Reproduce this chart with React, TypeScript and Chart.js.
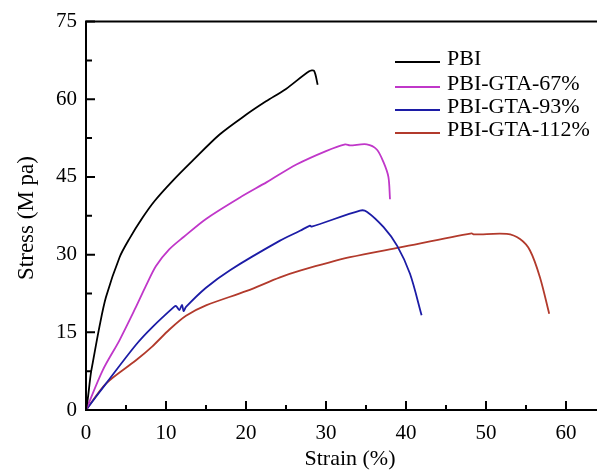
import React, { useEffect, useRef } from "react";
import { Chart, registerables } from "chart.js";

Chart.register(...registerables);

const seriesNames = ["PBI", "PBI-GTA-67%", "PBI-GTA-93%", "PBI-GTA-112%"];
const seriesColors = ["#000000", "#c037c9", "#1c1ca6", "#b23a2c"];

const pbiStrain = [0, 0.2, 0.6, 0.83, 1.67, 2.5, 4.2, 5.4, 7.1, 8.6, 10.8, 13.3, 16.7, 20, 22.5, 25, 27.9, 28.5, 28.96];
const pbiStress = [0, 1.9, 7, 9, 16, 21.8, 29.5, 33, 37.2, 40.4, 44.2, 48.1, 53.2, 57, 59.6, 62, 65.4, 65.5, 62.8];

const gta67Strain = [0, 2.1, 4.2, 6.25, 7.5, 8.75, 10.4, 12.2, 15, 19.2, 22.6, 26.3, 30, 32.4, 33, 35.1, 36.35, 37.2, 37.8, 38];
const gta67Stress = [0, 7.7, 13.5, 19.9, 24.0, 27.8, 31.0, 33.4, 36.9, 41, 44, 47.4, 50, 51.3, 51.1, 51.3, 50.3, 47.8, 45, 40.7];

const gta93Strain = [0, 2.5, 6.25, 8.3, 11, 11.25, 11.67, 12, 12.2, 12.5, 15, 18, 24.25, 26.75, 28.0, 28.2, 34.25, 35.1, 37.2, 38.9, 40.5, 41.95];
const gta93Stress = [0, 5.1, 12.6, 16.0, 19.9, 20.1, 19.3, 20.3, 19.1, 19.9, 23.6, 27, 32.7, 34.6, 35.6, 35.4, 38.5, 38.3, 35.3, 31.7, 26.3, 18.3];

const gta112Strain = [0, 2.5, 6.25, 8.3, 10.4, 12.5, 15, 20.1, 24.25, 26.75, 33, 39.25, 48.2, 48.5, 52.6, 54.25, 55.5, 56.75, 57.9];
const gta112Stress = [0, 5.1, 9.6, 12.3, 15.5, 18.2, 20.2, 23, 25.6, 26.9, 29.5, 31.4, 34.1, 33.9, 34.0, 33, 30.8, 25.6, 18.6];

const xTicks = [0, 10, 20, 30, 40, 50, 60];
const yTicks = [0, 15, 30, 45, 60, 75];
const xMinorTicks = [5, 15, 25, 35, 45, 55];
const yMinorTicks = [7.5, 22.5, 37.5, 52.5, 67.5];

const xTitle = "Strain (%)";
const yTitle = "Stress (M pa)";

const strains = [pbiStrain, gta67Strain, gta93Strain, gta112Strain];
const stresses = [pbiStress, gta67Stress, gta93Stress, gta112Stress];

const FONT = "'Liberation Serif', 'Times New Roman', serif";

const framePlugin = {
  id: "frame",
  afterDraw(chart: any) {
    const { ctx, chartArea, scales } = chart;
    const xs = scales.x;
    const ys = scales.y;
    ctx.save();
    ctx.strokeStyle = "#000";
    ctx.lineWidth = 2;
    ctx.beginPath();
    ctx.moveTo(chartArea.right + 2, chartArea.top);
    ctx.lineTo(chartArea.left, chartArea.top);
    ctx.lineTo(chartArea.left, chartArea.bottom);
    ctx.lineTo(chartArea.right + 2, chartArea.bottom);
    ctx.stroke();
    ctx.beginPath();
    for (const v of xTicks) {
      const px = xs.getPixelForValue(v);
      ctx.moveTo(px, chartArea.bottom);
      ctx.lineTo(px, chartArea.bottom - 9);
    }
    for (const v of xMinorTicks) {
      const px = xs.getPixelForValue(v);
      ctx.moveTo(px, chartArea.bottom);
      ctx.lineTo(px, chartArea.bottom - 5);
    }
    for (const v of yTicks) {
      const py = ys.getPixelForValue(v);
      ctx.moveTo(chartArea.left, py);
      ctx.lineTo(chartArea.left + 9, py);
    }
    for (const v of yMinorTicks) {
      const py = ys.getPixelForValue(v);
      ctx.moveTo(chartArea.left, py);
      ctx.lineTo(chartArea.left + 6, py);
    }
    ctx.stroke();

    // axis titles
    ctx.fillStyle = "#000";
    ctx.font = `22px ${FONT}`;
    ctx.textAlign = "center";
    ctx.textBaseline = "middle";
    ctx.fillText(xTitle, 350, 459);
    ctx.save();
    ctx.translate(27, 218);
    ctx.rotate(-Math.PI / 2);
    ctx.font = `23px ${FONT}`;
    ctx.fillText(yTitle, 0, 0);
    ctx.restore();

    // legend
    const rowY = [61, 86, 109, 132];
    ctx.font = `22px ${FONT}`;
    ctx.textAlign = "left";
    ctx.textBaseline = "middle";
    seriesNames.forEach((name, i) => {
      ctx.strokeStyle = seriesColors[i];
      ctx.lineWidth = 2;
      ctx.beginPath();
      ctx.moveTo(395, rowY[i] + 1);
      ctx.lineTo(440, rowY[i] + 1);
      ctx.stroke();
      ctx.fillStyle = "#000";
      ctx.fillText(name, 447, rowY[i] - 2);
    });
    ctx.restore();
  },
};

export default function App() {
  const ref = useRef<HTMLCanvasElement | null>(null);
  useEffect(() => {
    document.body.style.margin = "0";
    const canvas = ref.current!;
    const chart = new Chart(canvas, {
      type: "line",
      data: {
        datasets: seriesNames.map((name, i) => ({
          label: name,
          data: strains[i].map((x, j) => ({ x, y: stresses[i][j] })),
          borderColor: seriesColors[i],
          backgroundColor: seriesColors[i],
          borderWidth: 1.8,
          pointRadius: 0,
          tension: 0.3,
          fill: false,
        })),
      },
      options: {
        responsive: false,
        animation: false,
        layout: { padding: { top: 20, right: 0, left: 0, bottom: 0 } },
        plugins: {
          legend: { display: false },
          tooltip: { enabled: false },
        },
        scales: {
          x: {
            type: "linear",
            min: 0,
            max: 63.875,
            grid: { display: false, drawTicks: false },
            border: { display: false },
            afterFit: (s: any) => {
              s.height = 61;
            },
            afterBuildTicks: (s: any) => {
              s.ticks = xTicks.map((v) => ({ value: v }));
            },
            ticks: {
              padding: 11,
              color: "#000",
              font: { family: FONT, size: 21 },
              maxRotation: 0,
              autoSkip: false,
            },
          },
          y: {
            type: "linear",
            min: 0,
            max: 75,
            grid: { display: false, drawTicks: false },
            border: { display: false },
            afterFit: (s: any) => {
              s.width = 86;
            },
            afterBuildTicks: (s: any) => {
              s.ticks = yTicks.map((v) => ({ value: v }));
            },
            ticks: {
              padding: 9,
              color: "#000",
              font: { family: FONT, size: 21 },
              autoSkip: false,
            },
          },
        },
      },
      plugins: [framePlugin],
    });
    return () => chart.destroy();
  }, []);
  return <canvas ref={ref} width={597} height={471} style={{ display: "block" }} />;
}
